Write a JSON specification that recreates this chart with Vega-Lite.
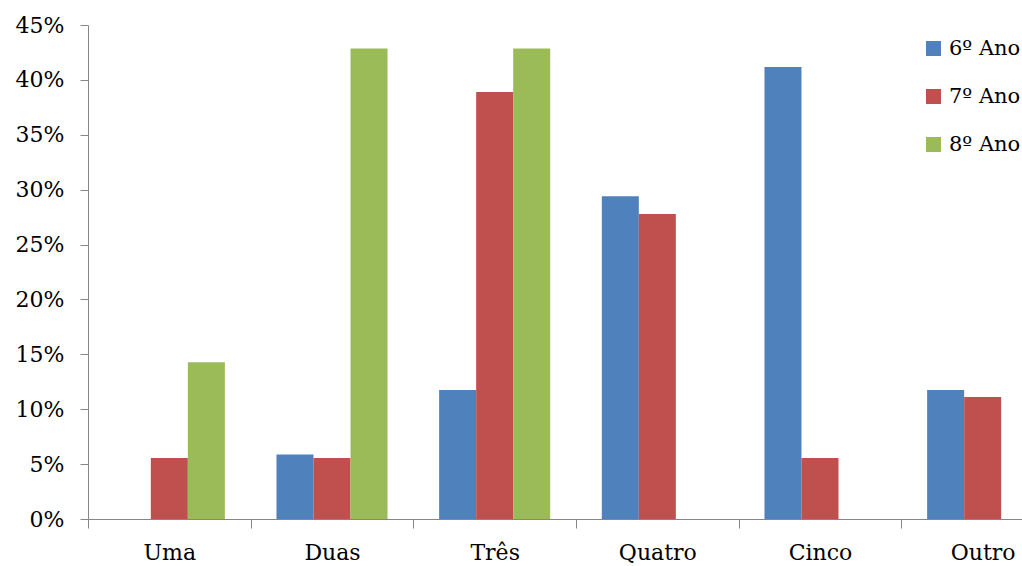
{
  "$schema": "https://vega.github.io/schema/vega-lite/v6.json",
  "width": 934,
  "height": 494,
  "autosize": {"type": "none"},
  "padding": {"left": 88, "top": 25, "right": 0, "bottom": 47},
  "background": "white",
  "config": {"view": {"stroke": null}, "font": "DejaVu Serif"},
  "data": {
    "values": [
      {"categoria": "Uma", "ano": "6º Ano", "pct": 0},
      {"categoria": "Uma", "ano": "7º Ano", "pct": 0.0556},
      {"categoria": "Uma", "ano": "8º Ano", "pct": 0.1429},
      {"categoria": "Duas", "ano": "6º Ano", "pct": 0.0588},
      {"categoria": "Duas", "ano": "7º Ano", "pct": 0.0556},
      {"categoria": "Duas", "ano": "8º Ano", "pct": 0.4286},
      {"categoria": "Três", "ano": "6º Ano", "pct": 0.1176},
      {"categoria": "Três", "ano": "7º Ano", "pct": 0.3889},
      {"categoria": "Três", "ano": "8º Ano", "pct": 0.4286},
      {"categoria": "Quatro", "ano": "6º Ano", "pct": 0.2941},
      {"categoria": "Quatro", "ano": "7º Ano", "pct": 0.2778},
      {"categoria": "Quatro", "ano": "8º Ano", "pct": 0},
      {"categoria": "Cinco", "ano": "6º Ano", "pct": 0.4118},
      {"categoria": "Cinco", "ano": "7º Ano", "pct": 0.0556},
      {"categoria": "Cinco", "ano": "8º Ano", "pct": 0},
      {"categoria": "Outro", "ano": "6º Ano", "pct": 0.1176},
      {"categoria": "Outro", "ano": "7º Ano", "pct": 0.1111},
      {"categoria": "Outro", "ano": "8º Ano", "pct": 0}
    ]
  },
  "mark": {"type": "bar"},
  "encoding": {
    "x": {
      "field": "categoria",
      "type": "nominal",
      "sort": ["Uma", "Duas", "Três", "Quatro", "Cinco", "Outro"],
      "scale": {"range": [0, 976], "paddingInner": 0, "paddingOuter": 0},
      "axis": {
        "title": null,
        "labelAngle": 0,
        "tickBand": "extent",
        "domainColor": "#868686",
        "tickColor": "#868686",
        "tickSize": 9,
        "labelFont": "DejaVu Serif",
        "labelFontSize": 22,
        "labelColor": "black",
        "labelPadding": 14
      }
    },
    "xOffset": {
      "field": "ano",
      "type": "nominal",
      "sort": ["6º Ano", "7º Ano", "8º Ano"],
      "scale": {"paddingInner": 0, "paddingOuter": 0.697}
    },
    "y": {
      "field": "pct",
      "type": "quantitative",
      "scale": {"domain": [0, 0.45], "nice": false},
      "axis": {
        "title": null,
        "grid": false,
        "values": [0, 0.05, 0.1, 0.15, 0.2, 0.25, 0.3, 0.35, 0.4, 0.45],
        "format": ".0%",
        "domainColor": "#868686",
        "tickColor": "#868686",
        "tickSize": 8,
        "labelFont": "DejaVu Serif",
        "labelFontSize": 22,
        "labelColor": "black",
        "labelPadding": 16
      }
    },
    "color": {
      "field": "ano",
      "type": "nominal",
      "scale": {
        "domain": ["6º Ano", "7º Ano", "8º Ano"],
        "range": ["#4F81BD", "#C0504D", "#9BBB59"]
      },
      "legend": {
        "title": null,
        "orient": "none",
        "legendX": 835,
        "legendY": 13,
        "padding": 0,
        "symbolType": "square",
        "symbolSize": 225,
        "symbolStrokeWidth": 0,
        "symbolOpacity": 1,
        "labelFont": "DejaVu Serif",
        "labelFontSize": 21,
        "labelColor": "black",
        "labelOffset": 5,
        "rowPadding": 26
      }
    }
  }
}
